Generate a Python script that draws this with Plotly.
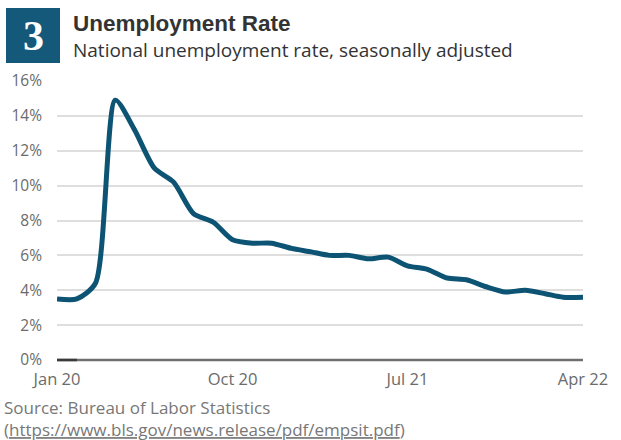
import plotly.graph_objects as go

months = ["2020-01-01", "2020-02-01", "2020-03-01", "2020-04-01", "2020-05-01", "2020-06-01",
          "2020-07-01", "2020-08-01", "2020-09-01", "2020-10-01", "2020-11-01", "2020-12-01",
          "2021-01-01", "2021-02-01", "2021-03-01", "2021-04-01", "2021-05-01", "2021-06-01",
          "2021-07-01", "2021-08-01", "2021-09-01", "2021-10-01", "2021-11-01", "2021-12-01",
          "2022-01-01", "2022-02-01", "2022-03-01", "2022-04-01"]
rate = [3.5, 3.5, 4.4, 14.9, 13.2, 11.0, 10.2, 8.4, 7.9, 6.9, 6.7, 6.7,
        6.4, 6.2, 6.0, 6.0, 5.8, 5.9, 5.4, 5.2, 4.7, 4.6, 4.2, 3.9,
        4.0, 3.8, 3.6, 3.6]
xtick_vals = ["2020-01-01", "2020-10-01", "2021-07-01", "2022-04-01"]
xtick_text = ["Jan 20", "Oct 20", "Jul 21", "Apr 22"]
ytick_vals = [0, 2, 4, 6, 8, 10, 12, 14, 16]
ytick_text = [f"{v}%" for v in ytick_vals]

LINE = "#0d5373"
BOX = "#14587a"
TXT = "#333333"
GRAY = "#6b6b6b"
FONT = "Open Sans, Liberation Sans, sans-serif"
TFONT = "Liberation Sans, Arial, sans-serif"

fig = go.Figure()
fig.add_trace(go.Scatter(x=months, y=rate, mode="lines",
                         line=dict(color=LINE, width=5, shape="spline", smoothing=0.7),
                         hoverinfo="skip", showlegend=False))

fig.update_layout(
    width=621, height=440,
    margin=dict(l=57, r=38, t=81, b=80),
    paper_bgcolor="white", plot_bgcolor="white",
    font=dict(family=FONT, color=GRAY, size=15),
    xaxis=dict(range=[months[0], months[-1]], tickmode="array", tickvals=xtick_vals,
               ticktext=xtick_text, showgrid=False, zeroline=False, showline=False,
               ticks="", ticklabelstandoff=7, tickfont=dict(size=16.5, color=GRAY)),
    yaxis=dict(range=[0, 16], tickmode="array", tickvals=ytick_vals, ticktext=ytick_text,
               showgrid=True, gridcolor="#dedede", gridwidth=1.5, zeroline=False,
               showline=False, ticks="", ticklabelstandoff=14,
               tickfont=dict(size=15.5, color=GRAY)),
)

# baseline (gray) with darker first segment
fig.add_shape(type="line", xref="paper", yref="paper", x0=0, x1=1, y0=0, y1=0,
              line=dict(color="#6f6f6f", width=2.5), layer="above")
fig.add_shape(type="line", xref="paper", yref="paper", x0=0, x1=20 / 526, y0=0, y1=0,
              line=dict(color="#3a3a3a", width=2.5), layer="above")

# header box with number
fig.add_shape(type="rect", xref="paper", yref="paper",
              x0=-51 / 526, x1=3 / 526, y0=1 + 18 / 279, y1=1 + 73 / 279,
              fillcolor=BOX, line=dict(width=0), layer="above")
fig.add_annotation(text="<b>3</b>", xref="paper", yref="paper", x=-24 / 526, y=1 + 45 / 279,
                   showarrow=False, xanchor="center", yanchor="middle",
                   font=dict(family="Liberation Serif, serif", size=42, color="white"))
fig.add_annotation(text="<b>Unemployment Rate</b>", xref="paper", yref="paper",
                   x=14 / 526, y=1 + 58 / 279, showarrow=False, xanchor="left",
                   yanchor="middle", font=dict(family=TFONT, size=22.5, color=TXT))
fig.add_annotation(text="National unemployment rate, seasonally adjusted", xref="paper",
                   yref="paper", x=14 / 526, y=1 + 31 / 279, showarrow=False,
                   xanchor="left", yanchor="middle", font=dict(family=FONT, size=19, color=TXT))
fig.add_annotation(text="Source: Bureau of Labor Statistics<br>(<u>https://www.bls.gov/news.release/pdf/empsit.pdf</u>)",
                   xref="paper", yref="paper", x=-55 / 526, y=-34 / 279, showarrow=False,
                   xanchor="left", yanchor="top", align="left",
                   font=dict(family=FONT, size=17, color="#777777"))

fig.write_html("out.html")
